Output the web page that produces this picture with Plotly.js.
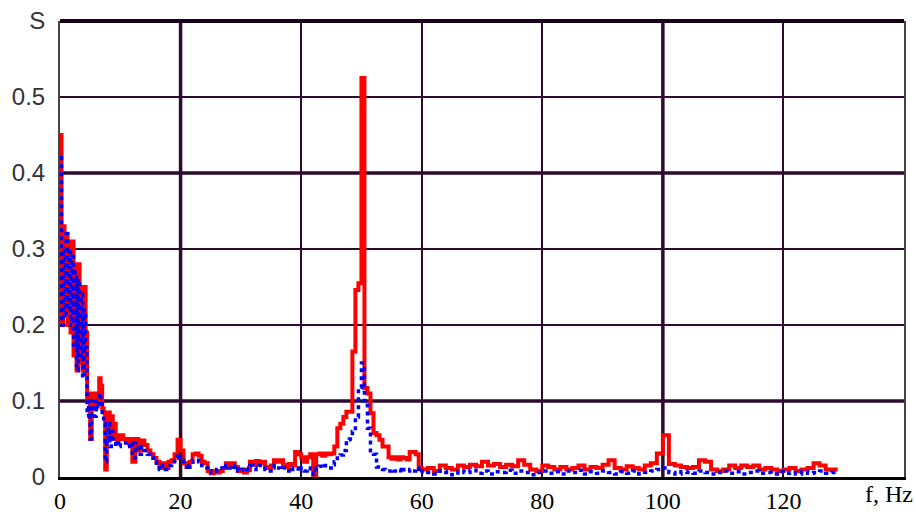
<!DOCTYPE html>
<html>
<head>
<meta charset="utf-8">
<script src="https://cdn.plot.ly/plotly-3.0.1.min.js"></script>
<style>html,body{margin:0;padding:0;background:#fff;}#chart{width:916px;height:514px;}</style>
</head>
<body>
<div id="chart"></div>
<script>
// Frequency grid segments (Hz): [start, stop, step]
const freqSegments = [[0, 10, 0.25], [10.5, 60, 0.5], [61, 129, 1]];

// Spectrum S, red solid series
const redA = [0.45,0.20,0.33,0.22,0.32,0.20,0.31,0.19,0.31,0.16,
  0.28,0.14,0.28,0.15,0.25,0.14,0.25,0.19,0.10,0.11,
  0.05,0.10,0.11,0.09,0.11,0.10,0.13,0.12,0.09,0.085,
  0.01,0.06,0.085,0.05,0.08,0.055,0.07,0.05,0.055,0.05,
  0.055];
const redB = [0.05,0.045,0.05,0.02,0.05,0.035,0.048,0.042,0.035,0.03,
  0.025,0.02,0.012,0.018,0.012,0.02,0.022,0.03,0.049,0.035,
  0.018,0.013,0.02,0.03,0.031,0.028,0.02,0.018,0.008,0.005,
  0.008,0.006,0.008,0.012,0.018,0.014,0.018,0.013,0.008,0.01,
  0.006,0.009,0.02,0.016,0.021,0.018,0.02,0.013,0.012,0.015,
  0.022,0.02,0.022,0.016,0.013,0.017,0.015,0.033,0.03,0.026,
  0.02,0.026,0.03,0.002,0.03,0.031,0.028,0.031,0.03,0.031,
  0.04,0.064,0.07,0.079,0.086,0.086,0.165,0.246,0.255,0.525,
  0.117,0.11,0.084,0.058,0.055,0.049,0.04,0.04,0.026,0.024,
  0.026,0.023,0.026,0.025,0.023,0.033,0.033,0.03,0.012,0.01];
const redC = [0.012,0.008,0.015,0.012,0.01,0.015,0.013,0.016,0.014,0.02,
  0.015,0.017,0.013,0.016,0.014,0.022,0.016,0.01,0.008,0.015,
  0.013,0.01,0.013,0.01,0.012,0.015,0.01,0.013,0.012,0.016,
  0.022,0.012,0.01,0.014,0.012,0.01,0.015,0.018,0.031,0.055,
  0.017,0.015,0.013,0.012,0.013,0.022,0.02,0.01,0.008,0.01,
  0.015,0.012,0.015,0.013,0.015,0.01,0.012,0.01,0.008,0.01,
  0.012,0.008,0.01,0.012,0.018,0.015,0.01,0.01,0.01];

// Spectrum S, blue dotted series
const blueA = [0.42,0.20,0.30,0.21,0.32,0.22,0.30,0.20,0.29,0.17,
  0.27,0.14,0.26,0.16,0.24,0.13,0.22,0.17,0.08,0.10,
  0.05,0.09,0.10,0.08,0.10,0.09,0.11,0.10,0.08,0.07,
  0.02,0.05,0.07,0.04,0.06,0.05,0.05,0.04,0.045,0.04,
  0.045];
const blueB = [0.045,0.04,0.045,0.025,0.045,0.03,0.04,0.035,0.03,0.025,
  0.02,0.015,0.01,0.015,0.01,0.015,0.02,0.025,0.03,0.022,
  0.02,0.01,0.015,0.022,0.022,0.02,0.015,0.012,0.008,0.006,
  0.008,0.01,0.012,0.01,0.015,0.012,0.01,0.015,0.008,0.01,
  0.012,0.01,0.015,0.012,0.01,0.015,0.012,0.01,0.008,0.012,
  0.015,0.012,0.01,0.012,0.008,0.012,0.01,0.012,0.008,0.012,
  0.008,0.012,0.006,0.004,0.012,0.014,0.012,0.015,0.012,0.016,
  0.02,0.025,0.029,0.035,0.049,0.05,0.06,0.079,0.118,0.15,
  0.1,0.064,0.031,0.03,0.013,0.013,0.01,0.008,0.008,0.01,
  0.008,0.01,0.006,0.01,0.008,0.01,0.008,0.012,0.006,0.008];
const blueC = [0.006,0.004,0.008,0.006,0.003,0.008,0.006,0.009,0.005,0.008,
  0.004,0.007,0.006,0.009,0.005,0.008,0.006,0.003,0.006,0.008,
  0.005,0.007,0.004,0.008,0.006,0.009,0.004,0.007,0.005,0.008,
  0.006,0.004,0.007,0.005,0.008,0.004,0.006,0.008,0.01,0.012,
  0.006,0.004,0.007,0.006,0.005,0.008,0.006,0.004,0.006,0.008,
  0.005,0.007,0.004,0.006,0.008,0.005,0.006,0.004,0.007,0.005,
  0.006,0.004,0.007,0.005,0.006,0.008,0.005,0.006,0.005];

const xTickVals = [0, 20, 40, 60, 80, 100, 120];
const xTickText = ['0', '20', '40', '60', '80', '100', '120'];
const yTickVals = [0, 0.1, 0.2, 0.3, 0.4, 0.5, 0.6];
const yTickText = ['0', '0.1', '0.2', '0.3', '0.4', '0.5', 'S'];
const thickX = [20, 100];
const thickY = [0.1, 0.4];

const freq = [];
freqSegments.forEach(([a, b, s]) => {
  for (let i = 0; a + i * s <= b + 1e-9; i++) freq.push(+(a + i * s).toFixed(4));
});
const red = redA.concat(redB, redC);
const blue = blueA.concat(blueB, blueC);

const gridCol = '#2e0b2e';
const shapes = [];
thickX.forEach(v => shapes.push({type: 'line', xref: 'x', yref: 'paper', x0: v, x1: v, y0: 0, y1: 1, layer: 'below', line: {color: gridCol, width: 3.5}}));
thickY.forEach(v => shapes.push({type: 'line', xref: 'paper', yref: 'y', x0: 0, x1: 1, y0: v, y1: v, layer: 'below', line: {color: gridCol, width: 3.5}}));
shapes.push({type: 'line', xref: 'paper', yref: 'paper', x0: 0, x1: 1, y0: 1, y1: 1, line: {color: '#1a001a', width: 4}});

const traces = [
  {x: freq, y: red, type: 'scatter', mode: 'lines', line: {shape: 'hv', color: '#ff0000', width: 4}, hoverinfo: 'skip'},
  {x: freq, y: blue, type: 'scatter', mode: 'lines', line: {shape: 'hv', color: '#0000ff', width: 3.5, dash: '4px,4px'}, hoverinfo: 'skip'}
];

const layout = {
  width: 916, height: 514,
  margin: {l: 60, r: 12, t: 21, b: 37},
  paper_bgcolor: '#ffffff', plot_bgcolor: '#ffffff',
  showlegend: false,
  xaxis: {
    range: [0, 140], tickmode: 'array', tickvals: xTickVals, ticktext: xTickText,
    showgrid: true, gridcolor: gridCol, gridwidth: 2, zeroline: false,
    showline: true, linecolor: '#000000', linewidth: 3, mirror: false,
    ticks: '', ticklabelstandoff: 0,
    tickfont: {family: 'Liberation Serif, Times New Roman, serif', size: 24, color: '#000'}
  },
  yaxis: {
    range: [0, 0.6], tickmode: 'array', tickvals: yTickVals, ticktext: yTickText,
    showgrid: true, gridcolor: gridCol, gridwidth: 2, zeroline: false,
    showline: true, linecolor: '#444444', linewidth: 2, mirror: true,
    ticks: '', ticklabelstandoff: 8,
    tickfont: {family: 'Liberation Sans, Arial, sans-serif', size: 24, color: '#333'}
  },
  shapes: shapes,
  annotations: [{
    xref: 'paper', yref: 'paper', x: 1.013, y: 0, xanchor: 'right', yanchor: 'top', yshift: -2,
    text: 'f, Hz', showarrow: false,
    font: {family: 'Liberation Serif, Times New Roman, serif', size: 24, color: '#000'}
  }]
};

Plotly.newPlot('chart', traces, layout, {displayModeBar: false, staticPlot: true});
</script>
</body>
</html>
